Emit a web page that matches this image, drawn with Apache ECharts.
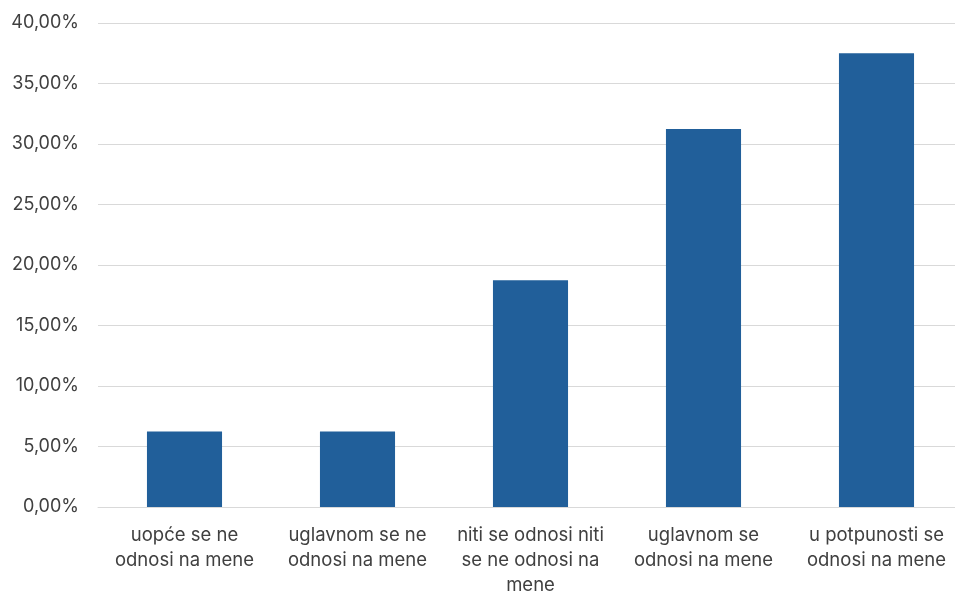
<!DOCTYPE html>
<html>
<head>
<meta charset="utf-8">
<script src="https://cdn.jsdelivr.net/npm/echarts@6/dist/echarts.min.js"></script>
<style>
	html, body { margin: 0; padding: 0; background: #fff; }
	#chart { width: 955px; height: 594px; }
</style>
</head>
<body>
<div id="chart"></div>
<script>
const categories = [
	"uopće se ne\nodnosi na mene",
	"uglavnom se ne\nodnosi na mene",
	"niti se odnosi niti\nse ne odnosi na\nmene",
	"uglavnom se\nodnosi na mene",
	"u potpunosti se\nodnosi na mene"
];
const values = [ 6.25, 6.25, 18.75, 31.25, 37.5 ];

const chart = echarts.init( document.getElementById( "chart" ) );
chart.setOption( {
	animation: false,
	textStyle: { fontFamily: "Inter, 'Open Sans', sans-serif" },
	grid: { left: 98, right: -8, top: 23, bottom: 87, outerBoundsMode: "none", containLabel: false },
	xAxis: {
		type: "category",
		data: categories,
		axisLine: { lineStyle: { color: "#d9d9d9", width: 1 } },
		axisTick: { show: false },
		axisLabel: {
			color: "#404040",
			fontSize: 18.5,
			lineHeight: 25,
			margin: 16,
			interval: 0
		}
	},
	yAxis: {
		type: "value",
		min: 0,
		max: 40,
		interval: 5,
		axisLine: { show: false },
		axisTick: { show: false },
		splitLine: { lineStyle: { color: "#d9d9d9", width: 1 } },
		axisLabel: {
			color: "#404040",
			fontSize: 18,
			margin: 19,
			formatter: v => v.toFixed( 2 ).replace( ".", "," ) + "%"
		}
	},
	series: [ {
		type: "bar",
		data: values,
		barWidth: "43.4%",
		itemStyle: { color: "#215f9a" }
	} ]
} );
</script>
</body>
</html>
